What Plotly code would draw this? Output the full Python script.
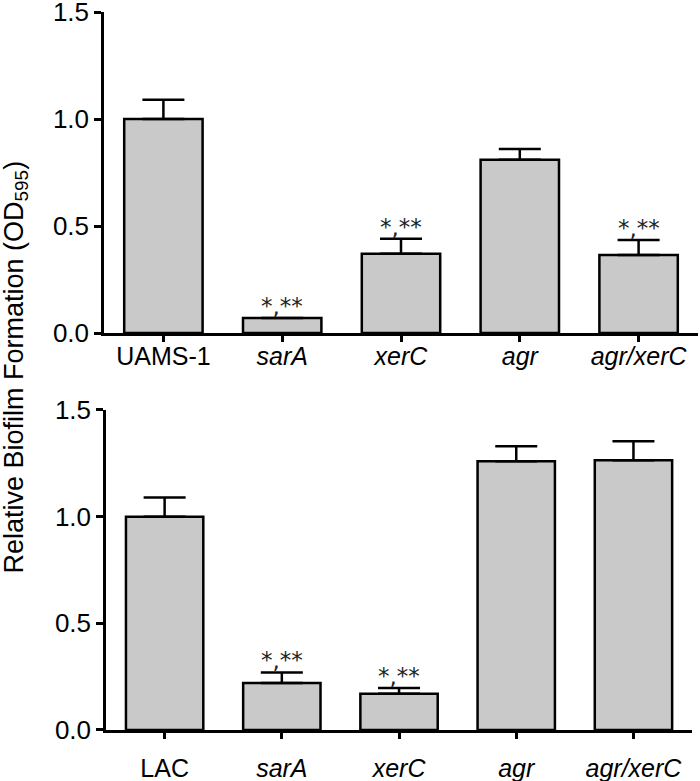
import plotly.graph_objects as go

categories_top = ["UAMS-1", "sarA", "xerC", "agr", "agr/xerC"]
categories_bottom = ["LAC", "sarA", "xerC", "agr", "agr/xerC"]
labels_top = ["UAMS-1", "<i>sarA</i>", "<i>xerC</i>", "<i>agr</i>", "<i>agr/xerC</i>"]
labels_bottom = ["LAC", "<i>sarA</i>", "<i>xerC</i>", "<i>agr</i>", "<i>agr/xerC</i>"]
values_top = [1.00, 0.07, 0.37, 0.81, 0.365]
errors_top = [0.09, 0.0, 0.07, 0.05, 0.07]
values_bottom = [1.00, 0.22, 0.17, 1.26, 1.265]
errors_bottom = [0.09, 0.05, 0.027, 0.07, 0.088]
sig_top = ["", "*,**", "*,**", "", "*,**"]
sig_bottom = ["", "*,**", "*,**", "", ""]
y_ticks = [0.0, 0.5, 1.0, 1.5]
y_ticktext = ["0.0", "0.5", "1.0", "1.5"]
y_title = "Relative Biofilm Formation (OD<sub>595</sub>)"

FONT = "Liberation Sans, Arial, sans-serif"
SIG_FONT = "DejaVu Sans, sans-serif"
BAR_FILL = "#c9c9c9"

fig = go.Figure()

def add_panel(cats, vals, errs, xa, ya):
    fig.add_trace(go.Bar(
        x=cats, y=vals, xaxis=xa, yaxis=ya, width=0.66,
        marker=dict(color=BAR_FILL, line=dict(color="black", width=2.5)),
        error_y=dict(type="data", symmetric=False, array=errs,
                     arrayminus=[0] * len(errs), color="black",
                     thickness=2.5, width=21),
        showlegend=False, hoverinfo="skip",
    ))

add_panel(categories_top, values_top, errors_top, "x", "y")
add_panel(categories_bottom, values_bottom, errors_bottom, "x2", "y2")

annotations = []
for cats, vals, errs, sig, xr, yr in [
    (categories_top, values_top, errors_top, sig_top, "x", "y"),
    (categories_bottom, values_bottom, errors_bottom, sig_bottom, "x2", "y2"),
]:
    for c, v, e, s in zip(cats, vals, errs, sig):
        if s:
            annotations.append(dict(
                x=c, y=v + e, xref=xr, yref=yr, text=s,
                showarrow=False, yanchor="bottom", xanchor="center",
                yshift=-3,
                font=dict(family=SIG_FONT, size=23, color="#222"),
            ))

annotations.append(dict(
    x=-0.148, y=0.505, xref="paper", yref="paper", text=y_title,
    showarrow=False, textangle=-90, xanchor="center", yanchor="middle",
    font=dict(family=FONT, size=27, color="black"),
))

xcommon = dict(
    type="category", range=[-0.5, 4.5], showline=True, linecolor="black",
    linewidth=2.5, ticks="outside", ticklen=6, tickwidth=2.5,
    tickcolor="black", showgrid=False, zeroline=False, automargin=False,
    ticklabeloverflow="allow",
    tickfont=dict(family=FONT, size=25, color="black"),
)
ycommon = dict(
    range=[0, 1.5], showline=True, linecolor="black", linewidth=2.5,
    ticks="outside", ticklen=7, tickwidth=2.5, tickcolor="black",
    tickvals=y_ticks, ticktext=y_ticktext, showgrid=False, zeroline=False,
    automargin=False, ticklabeloverflow="allow",
    tickfont=dict(family=FONT, size=26, color="black"),
)

fig.update_layout(
    width=700, height=781,
    margin=dict(l=104, r=2, t=12, b=51),
    plot_bgcolor="white", paper_bgcolor="white",
    bargap=0.34,
    xaxis=dict(xcommon, domain=[0, 1], anchor="y",
               tickvals=categories_top, ticktext=labels_top,
               ticklabelstandoff=-7),
    yaxis=dict(ycommon, domain=[0.5529, 1.0], anchor="x"),
    xaxis2=dict(xcommon, domain=[0.0034, 0.99], anchor="y2",
                tickvals=categories_bottom, ticktext=labels_bottom,
                ticklabelstandoff=8),
    yaxis2=dict(ycommon, domain=[0.0, 0.4457], anchor="x2"),
    annotations=annotations,
)

post = "document.body.style.margin='0';document.body.style.padding='0';"
fig.write_html("out.html", post_script=post, config={"displayModeBar": False})
